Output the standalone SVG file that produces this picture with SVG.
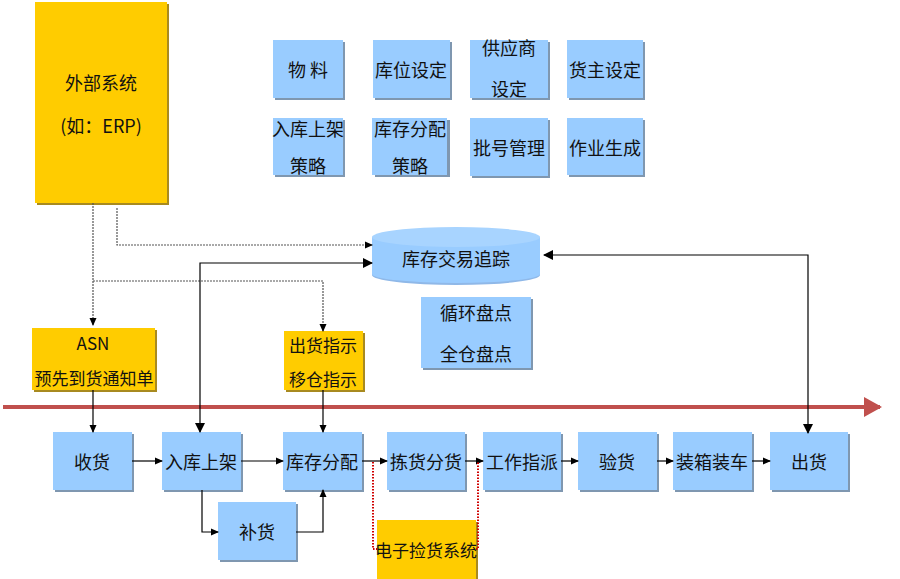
<svg xmlns="http://www.w3.org/2000/svg" width="900" height="579" viewBox="0 0 900 579">
<defs>
<marker id="ah" markerWidth="8" markerHeight="8" refX="7" refY="4" orient="auto" markerUnits="userSpaceOnUse"><path d="M0,0.5 L8,4 L0,7.5 z" fill="#000"/></marker>
<marker id="ahs" markerWidth="10" markerHeight="10" refX="9" refY="5" orient="auto-start-reverse" markerUnits="userSpaceOnUse"><path d="M0,0 L10,5 L0,10 z" fill="#000"/></marker>
<marker id="red" markerWidth="18" markerHeight="20" refX="16" refY="10" orient="auto" markerUnits="userSpaceOnUse"><path d="M0,0 L18,10 L0,20 z" fill="#c0504d"/></marker>
</defs>
<style>
.b{fill:#99ccff}
.y{fill:#ffcc00}
.sb{fill:#7f97b0}
.sy{fill:#a88a20}
text{font-family:"Noto Sans CJK SC","Noto Sans",sans-serif;font-size:18px;fill:#111;text-anchor:middle;dominant-baseline:central}
.s17{font-size:17px}
.c{fill:none;stroke:#000;stroke-width:1.2}
.d{fill:none;stroke:#555;stroke-width:1.2;stroke-dasharray:2 1}
.r{fill:none;stroke:#d00000;stroke-width:2;stroke-dasharray:1.5 1.5}
</style>
<rect width="900" height="579" fill="#fff"/>
<g id="erp"><rect class="sy" x="37" y="4" width="132" height="201"/><rect class="y" x="35" y="2" width="132" height="201"/><text x="101" y="82">外部系统</text><text x="101" y="125">(如：ERP)</text></g>
<g id="wuliao"><rect class="sb" x="275" y="42" width="70" height="58"/><rect class="b" x="273" y="40" width="70" height="58"/><text x="308" y="69">物 料</text></g>
<g id="kuwei"><rect class="sb" x="375" y="42" width="77" height="58"/><rect class="b" x="373" y="40" width="77" height="58"/><text x="411" y="69">库位设定</text></g>
<g id="gys"><rect class="sb" x="472" y="42" width="78" height="58"/><rect class="b" x="470" y="40" width="78" height="58"/><text x="509" y="47">供应商</text><text x="509" y="88">设定</text></g>
<g id="huozhu"><rect class="sb" x="569" y="42" width="76" height="58"/><rect class="b" x="567" y="40" width="76" height="58"/><text x="605" y="69">货主设定</text></g>
<g id="rkcl"><rect class="sb" x="275" y="120" width="70" height="57"/><rect class="b" x="273" y="118" width="70" height="57"/><text x="308" y="128">入库上架</text><text x="308" y="165">策略</text></g>
<g id="kccl"><rect class="sb" x="375" y="120" width="75" height="57"/><rect class="b" x="372" y="118" width="75" height="57"/><text x="410" y="128">库存分配</text><text x="410" y="165">策略</text></g>
<g id="pihao"><rect class="sb" x="472" y="120" width="78" height="58"/><rect class="b" x="470" y="118" width="78" height="58"/><text x="509" y="147">批号管理</text></g>
<g id="zuoye"><rect class="sb" x="569" y="120" width="76" height="57"/><rect class="b" x="567" y="118" width="76" height="57"/><text x="605" y="147">作业生成</text></g>
<g id="kcjy"><path d="M372,237 L372,275 A84,10 0 0 0 540,275 L540,237 Z" fill="#8fb8e8"/><path d="M372,237 L372,274 A84,9 0 0 0 540,274 L540,237" class="b"/><ellipse cx="456" cy="237" rx="84" ry="10" fill="#a8d4ff"/><text x="456" y="258">库存交易追踪</text></g>
<g id="pandian"><rect class="sb" x="423" y="299" width="110" height="71"/><rect class="b" x="421" y="297" width="110" height="71"/><text x="476" y="312">循环盘点</text><text x="476" y="353">全仓盘点</text></g>
<g id="asn"><rect class="sy" x="34" y="330" width="123" height="62"/><rect class="y" x="32" y="328" width="123" height="62"/><text class="s17" x="93" y="342">ASN</text><text class="s17" x="94" y="377">预先到货通知单</text></g>
<g id="chzs"><rect class="sy" x="286" y="333" width="79" height="59"/><rect class="y" x="284" y="331" width="79" height="59"/><text class="s17" x="323" y="344">出货指示</text><text class="s17" x="323" y="378">移仓指示</text></g>
<g id="shouhuo"><rect class="sb" x="55" y="434" width="79" height="58"/><rect class="b" x="53" y="432" width="79" height="58"/><text x="92" y="461">收货</text></g>
<g id="rksj"><rect class="sb" x="164" y="434" width="79" height="58"/><rect class="b" x="162" y="432" width="79" height="58"/><text x="201" y="461">入库上架</text></g>
<g id="kcfp"><rect class="sb" x="285" y="434" width="79" height="58"/><rect class="b" x="283" y="432" width="79" height="58"/><text x="322" y="461">库存分配</text></g>
<g id="jhfh"><rect class="sb" x="389" y="434" width="78" height="58"/><rect class="b" x="387" y="432" width="78" height="58"/><text x="426" y="461">拣货分货</text></g>
<g id="gzzp"><rect class="sb" x="485" y="434" width="78" height="58"/><rect class="b" x="483" y="432" width="78" height="58"/><text x="522" y="461">工作指派</text></g>
<g id="yanhuo"><rect class="sb" x="580" y="434" width="79" height="58"/><rect class="b" x="578" y="432" width="79" height="58"/><text x="617" y="461">验货</text></g>
<g id="zxzc"><rect class="sb" x="675" y="434" width="79" height="58"/><rect class="b" x="673" y="432" width="79" height="58"/><text x="712" y="461">装箱装车</text></g>
<g id="chuhuo"><rect class="sb" x="772" y="434" width="78" height="58"/><rect class="b" x="770" y="432" width="78" height="58"/><text x="809" y="461">出货</text></g>
<g id="buhuo"><rect class="sb" x="220" y="504" width="78" height="58"/><rect class="b" x="218" y="502" width="78" height="58"/><text x="257" y="531">补货</text></g>
<g id="dzjh"><rect class="sy" x="379" y="522" width="99" height="60"/><rect class="y" x="377" y="520" width="99" height="60"/><text class="s17" x="426" y="549">电子捡货系统</text></g>
<g id="connectors">
<line x1="3" y1="407" x2="880" y2="407" stroke="#c0504d" stroke-width="4" marker-end="url(#red)"/>
<path class="d" d="M93,203 L93,325" marker-end="url(#ah)"/>
<path class="d" d="M117,208 L117,245 L372,245" marker-end="url(#ah)"/>
<path class="d" d="M93,281 L323,281 L323,331" marker-end="url(#ah)"/>
<path class="c" d="M200,432 L200,263 L372,263" marker-end="url(#ahs)" marker-start="url(#ahs)"/>
<path class="c" d="M808,433 L808,255 L544,255" marker-end="url(#ahs)" marker-start="url(#ahs)"/>
<path class="c" d="M93,390 L93,432" marker-end="url(#ah)"/>
<path class="c" d="M323,390 L323,432" marker-end="url(#ah)"/>
<path class="c" d="M132,461 L162,461" marker-end="url(#ah)"/>
<path class="c" d="M241,461 L283,461" marker-end="url(#ah)"/>
<path class="c" d="M362,461 L387,461" marker-end="url(#ah)"/>
<path class="c" d="M465,461 L483,461" marker-end="url(#ah)"/>
<path class="c" d="M561,461 L578,461" marker-end="url(#ah)"/>
<path class="c" d="M657,461 L673,461" marker-end="url(#ah)"/>
<path class="c" d="M752,461 L770,461" marker-end="url(#ah)"/>
<path class="c" d="M202,490 L202,532 L218,532" marker-end="url(#ah)"/>
<path class="c" d="M296,532 L323,532 L323,490" marker-end="url(#ah)"/>
<path class="r" d="M373,462 L373,549 L377,549"/>
<path class="r" d="M476,549 L478,549 L478,462"/>
</g>
</svg>
